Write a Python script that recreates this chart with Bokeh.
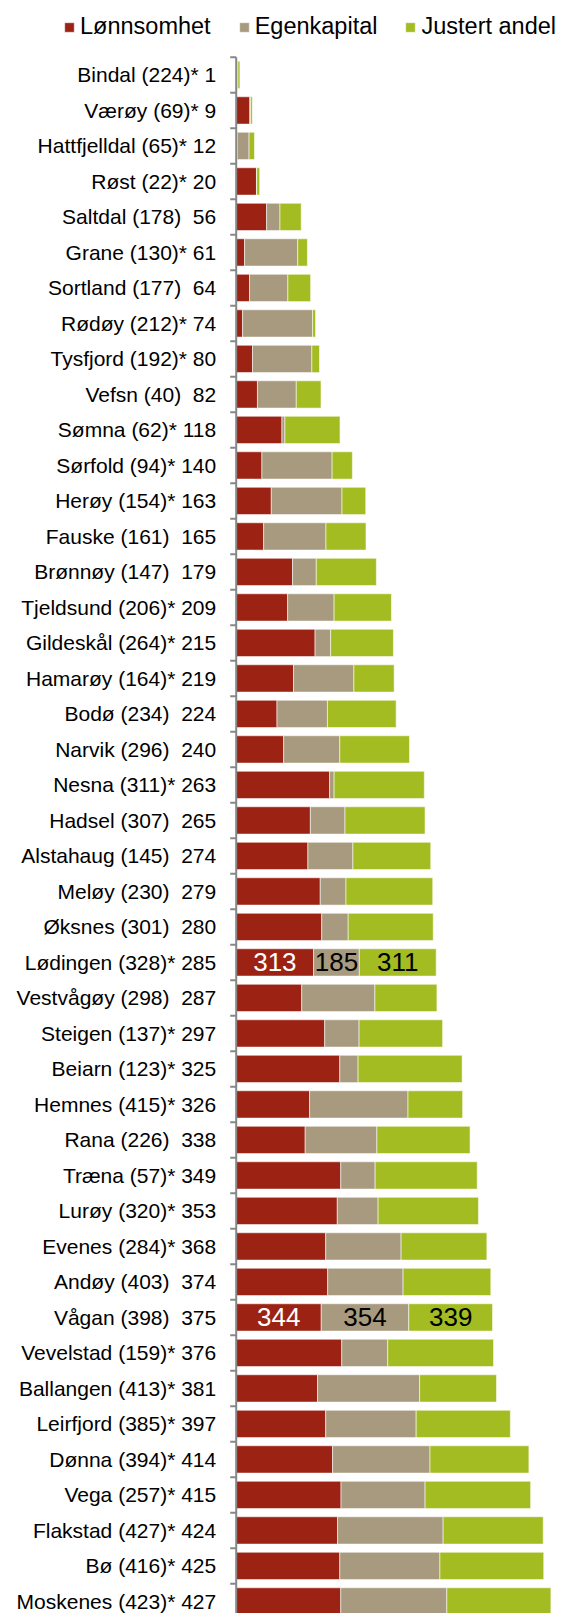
import math
from bokeh.plotting import figure
from bokeh.models import Range1d, Legend, LegendItem, ColumnDataSource
from bokeh.core.properties import value
from bokeh.embed import file_html
from bokeh.resources import INLINE

kommuner = ["Bindal (224)* 1", "Værøy (69)* 9", "Hattfjelldal (65)* 12", "Røst (22)* 20",
            "Saltdal (178)\u00a0 56", "Grane (130)* 61", "Sortland (177)\u00a0 64", "Rødøy (212)* 74",
            "Tysfjord (192)* 80", "Vefsn (40)\u00a0 82", "Sømna (62)* 118", "Sørfold (94)* 140",
            "Herøy (154)* 163", "Fauske (161)\u00a0 165", "Brønnøy (147)\u00a0 179", "Tjeldsund (206)* 209",
            "Gildeskål (264)* 215", "Hamarøy (164)* 219", "Bodø (234)\u00a0 224", "Narvik (296)\u00a0 240",
            "Nesna (311)* 263", "Hadsel (307)\u00a0 265", "Alstahaug (145)\u00a0 274", "Meløy (230)\u00a0 279",
            "Øksnes (301)\u00a0 280", "Lødingen (328)* 285", "Vestvågøy (298)\u00a0 287", "Steigen (137)* 297",
            "Beiarn (123)* 325", "Hemnes (415)* 326", "Rana (226)\u00a0 338", "Træna (57)* 349",
            "Lurøy (320)* 353", "Evenes (284)* 368", "Andøy (403)\u00a0 374", "Vågan (398)\u00a0 375",
            "Vevelstad (159)* 376", "Ballangen (413)* 381", "Leirfjord (385)* 397", "Dønna (394)* 414",
            "Vega (257)* 415", "Flakstad (427)* 424", "Bø (416)* 425", "Moskenes (423)* 427"]

lonnsomhet = [5, 55, 5, 82, 123, 34, 54, 26, 66, 86, 185, 104, 142, 111, 228, 208, 319, 232, 165, 192,
              378, 300, 290, 340, 346, 313, 265, 358, 419, 297, 279, 423, 409, 362, 370, 344, 427, 329,
              362, 390, 424, 410, 419, 423]
egenkapital = [2, 3, 47, 1, 54, 215, 155, 283, 240, 157, 12, 284, 286, 252, 96, 188, 63, 244, 204, 227,
               18, 140, 182, 104, 107, 185, 296, 139, 74, 398, 290, 139, 165, 305, 305, 354, 186, 413,
               366, 394, 340, 427, 405, 429]
justert_andel = [8, 7, 22, 12, 86, 39, 92, 12, 31, 100, 223, 82, 96, 162, 243, 232, 254, 163, 278, 282,
                 365, 324, 315, 351, 344, 311, 251, 338, 421, 221, 377, 413, 406, 347, 355, 339, 428, 311,
                 381, 400, 427, 405, 420, 421]

# rows whose segment values are printed in the bars
labelled_rows = ["Lødingen (328)* 285", "Vågan (398)\u00a0 375"]

series_names = ["Lønnsomhet", "Egenkapital", "Justert andel"]
colors = ["#9C2314", "#A89A7E", "#A3BC22"]

n = len(kommuner)
ys = list(range(n))
e0 = [0] * n
e1 = lonnsomhet[:]
e2 = [a + b for a, b in zip(lonnsomhet, egenkapital)]
e3 = [a + b + c for a, b, c in zip(lonnsomhet, egenkapital, justert_andel)]

FONT = "Liberation Sans"
AXIS_COLOR = "#878787"
BAR_STYLE = dict(line_color="white", line_alpha=0.55, line_width=1)

# frame covers the whole canvas; the category axis is drawn at value 0
p = figure(width=563, height=1613,
           x_range=Range1d(-953.5, 1324), y_range=Range1d(43.34, -2.097),
           output_backend="svg", toolbar_location=None,
           x_axis_location=None, y_axis_location=None,
           min_border_left=0, min_border_right=0, min_border_top=0, min_border_bottom=0,
           outline_line_color=None, background_fill_color="white", border_fill_color="white")
for g in p.grid:
    g.visible = False

src = ColumnDataSource(dict(y=ys, e0=e0, e1=e1, e2=e2, e3=e3, label=kommuner))
h = 0.77
r1 = p.hbar(y="y", left="e0", right="e1", height=h, source=src, fill_color=colors[0], **BAR_STYLE)
r2 = p.hbar(y="y", left="e1", right="e2", height=h, source=src, fill_color=colors[1], **BAR_STYLE)
r3 = p.hbar(y="y", left="e2", right="e3", height=h, source=src, fill_color=colors[2], **BAR_STYLE)

# category axis: line, boundary ticks and labels
p.segment(x0=[0], y0=[-0.5], x1=[0], y1=[n], line_color=AXIS_COLOR, line_width=2)
p.ray(x=[0] * (n + 1), y=[i - 0.5 for i in range(n + 1)], length=6, length_units="screen",
      angle=math.pi, line_color=AXIS_COLOR, line_width=2)
p.text(x="e0", y="y", text="label", source=src, x_offset=-20, text_align="right",
       text_baseline="middle", text_font=value(FONT), text_font_size="21px", text_color="black")

# value labels
lx, ly, lt, lc = [], [], [], []
for name in labelled_rows:
    i = kommuner.index(name)
    vals = [lonnsomhet[i], egenkapital[i], justert_andel[i]]
    lefts = [e0[i], e1[i], e2[i]]
    for k in range(3):
        lx.append(lefts[k] + vals[k] / 2)
        ly.append(i)
        lt.append(str(vals[k]))
        lc.append("white" if k == 0 else "black")
p.text(x=lx, y=ly, text=lt, text_color=lc, text_align="center", text_baseline="middle",
       text_font=value(FONT), text_font_size="26px")

legend = Legend(items=[LegendItem(label=series_names[0], renderers=[r1]),
                       LegendItem(label=series_names[1], renderers=[r2]),
                       LegendItem(label=series_names[2], renderers=[r3])],
                orientation="horizontal", location=(63, 1573),
                glyph_width=12, glyph_height=12, label_standoff=5, spacing=27,
                padding=0, margin=0, border_line_color=None, background_fill_alpha=0,
                label_text_font=FONT, label_text_font_size="23.5px", label_text_color="black")
p.add_layout(legend)

open("out.html", "w").write(file_html(p, INLINE))
